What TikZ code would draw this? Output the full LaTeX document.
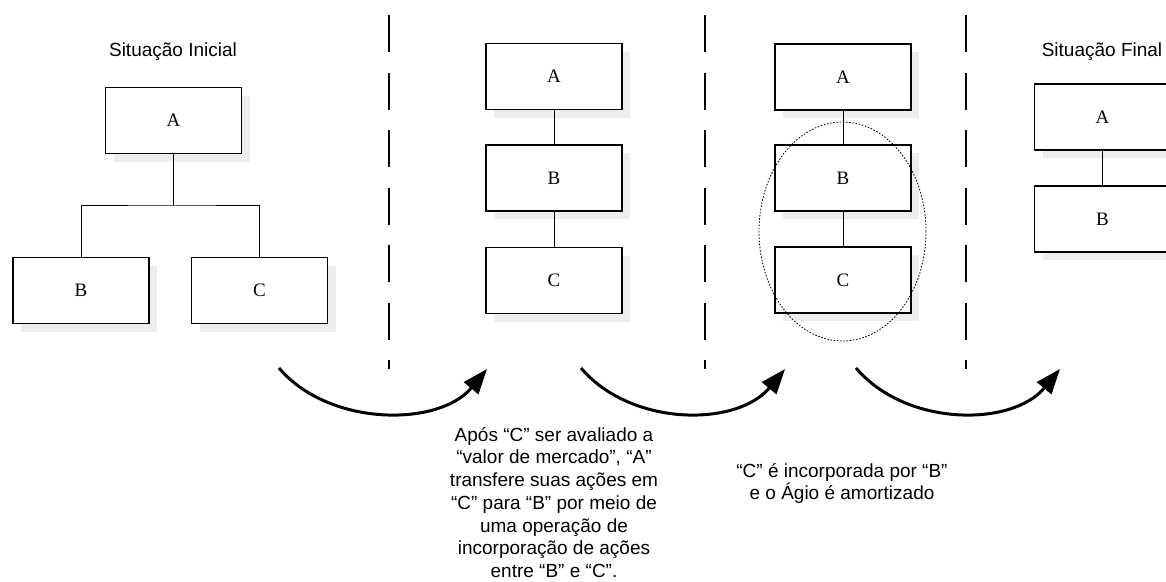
\documentclass[tikz,border=0pt]{standalone}
\usepackage{fontspec}
\setmainfont{Liberation Serif}
\newfontfamily\labfont{Liberation Sans}
\usetikzlibrary{arrows.meta,shadows}

\begin{document}
\begin{tikzpicture}[x=1pt,y=-1pt,
  entity/.style={draw, line width=1.5pt, fill=white,
    minimum width=136pt, minimum height=66pt, inner sep=0pt,
    font=\fontsize{19pt}{22pt}\selectfont,
    drop shadow={shadow xshift=8pt, shadow yshift=-8pt, fill=black!7, opacity=1}},
  link/.style={line width=1pt},
  divider/.style={line width=2.4pt, dash pattern=on 37pt off 20.5pt},
  passage/.style={line width=3pt, -{Triangle[length=25pt,width=18.5pt]}},
  caption/.style={font=\labfont\fontsize{19pt}{22.7pt}\selectfont,
    inner sep=0pt, align=center},
  group/.style={line width=0.8pt, dash pattern=on 1.6pt off 1.6pt}
]
\clip (0,0) rectangle (1166,581);

% stage 1: initial structure
\node[caption, anchor=base] (title1) at (173,56) {Situação Inicial};
\node[entity] (a1) at (173.5,120.5) {A};
\node[entity] (b1) at (81,290.5) {B};
\node[entity] (c1) at (259.5,290.5) {C};
\coordinate (fork) at (173.5,205);
\draw[link] (a1.south) -- (fork);
\draw[link] (b1.north) |- (fork) -| (c1.north);

% stage 2
\node[entity] (a2) at (554,76.5) {A};
\node[entity] (b2) at (554,178) {B};
\node[entity] (c2) at (554,280.5) {C};
\draw[link] (a2.south) -- (b2.north);
\draw[link] (b2.south) -- (c2.north);

% stage 3
\node[entity] (a3) at (843,77) {A};
\node[entity] (b3) at (843,178) {B};
\node[entity] (c3) at (843,280) {C};
\draw[link] (a3.south) -- (b3.north);
\draw[link] (b3.south) -- (c3.north);
\draw[group] (842.5,231.5) ellipse [x radius=83.5pt, y radius=109.5pt];

% stage 4: final structure
\node[caption, anchor=base] (title4) at (1102,56) {Situação Final};
\node[entity] (a4) at (1102.5,117) {A};
\node[entity] (b4) at (1102.5,219) {B};
\draw[link] (a4.south) -- (b4.north);

% dashed separators
\foreach \i/\x in {1/389, 2/705, 3/966} {
  \coordinate (d\i top) at (\x,15);
  \coordinate (d\i bot) at (\x,369);
  \draw[divider] (d\i top) -- (d\i bot);
}

% transition arrows
\coordinate (s1) at (279,368);  \coordinate (e1) at (487,369);
\coordinate (s2) at (581,368);  \coordinate (e2) at (785,369);
\coordinate (s3) at (856,368);  \coordinate (e3) at (1060,369);
\draw[passage] (s1) .. controls +(50,59) and +(-48,58) .. (e1);
\draw[passage] (s2) .. controls +(50,59) and +(-48,58) .. (e2);
\draw[passage] (s3) .. controls +(50,59) and +(-48,58) .. (e3);

% notes
\node[caption, anchor=north] (note1) at (554,427)
  {Após “C” ser avaliado a\\ “valor de mercado”, “A”\\ transfere suas ações em\\
   “C” para “B” por meio de\\ uma operação de\\ incorporação de ações\\ entre “B” e “C”.};
\node[caption, anchor=north] (note2) at (842,463)
  {“C” é incorporada por “B”\\ e o Ágio é amortizado};
\end{tikzpicture}
\end{document}
